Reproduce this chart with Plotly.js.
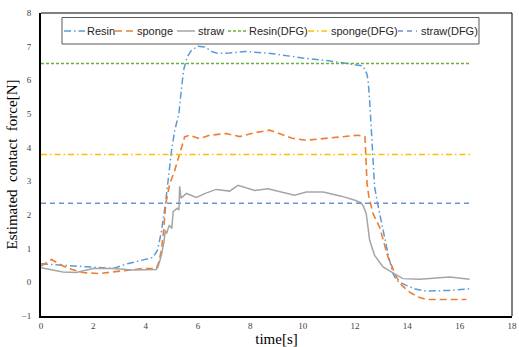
<!DOCTYPE html>
<html>
<head>
<meta charset="utf-8">
<script src="https://cdn.plot.ly/plotly-3.0.1.min.js"></script>
<style>html,body{margin:0;padding:0;background:#fff;}#chart{width:519px;height:347px;}</style>
</head>
<body>
<div id="chart"></div>
<script>
// ---- data ----
const resinT = [0,1.0,2.75,3.3,4.28,4.45,4.6,4.75,4.9,4.99,5.11,5.27,5.36,5.45,5.58,5.75,6.0,6.26,6.57,6.76,7.21,7.8,8.87,10.14,11.0,11.67,12.0,12.3,12.45,12.5,12.56,12.62,12.69,12.75,12.85,12.94,13.1,13.26,13.45,13.6,13.96,14.3,14.73,15.2,15.62,16.38];
const resinV = [0.55,0.50,0.41,0.55,0.74,0.95,1.5,2.3,3.3,3.92,4.51,5.01,5.7,6.3,6.69,6.89,7.01,6.99,6.84,6.80,6.81,6.86,6.79,6.65,6.58,6.50,6.48,6.43,6.2,6.0,5.4,4.6,3.9,2.83,2.4,2.04,1.4,0.85,0.26,0.05,-0.09,-0.2,-0.26,-0.25,-0.24,-0.19];

const spongeT = [0,0.4,0.8,1.16,1.6,2.24,2.75,3.26,3.9,4.41,4.5,4.6,4.68,4.77,4.92,5.1,5.3,5.36,5.49,5.68,6.06,6.45,7.08,7.59,8.2,8.74,9.2,9.6,10.14,11.0,12.11,12.38,12.42,12.46,12.53,12.69,12.94,13.1,13.26,13.58,13.8,14.09,14.4,14.73,16.26];
const spongeV = [0.48,0.68,0.5,0.39,0.29,0.26,0.31,0.36,0.41,0.41,0.6,0.95,1.5,2.34,2.93,3.3,3.82,3.97,4.32,4.37,4.27,4.37,4.42,4.33,4.45,4.52,4.4,4.28,4.22,4.28,4.37,4.33,3.6,2.93,2.54,2.04,1.64,1.2,0.75,0.16,-0.1,-0.29,-0.43,-0.51,-0.51];

const strawT = [0,0.84,1.35,1.99,2.75,3.5,4.4,4.47,4.6,4.66,4.7,4.75,4.8,4.9,5.0,5.05,5.2,5.27,5.3,5.35,5.56,5.94,6.3,6.7,7.21,7.53,7.97,8.17,8.67,9.2,9.69,10.14,10.78,11.48,12.0,12.24,12.33,12.43,12.56,12.75,13.07,13.45,13.83,14.47,15.62,16.38];
const strawV = [0.43,0.31,0.29,0.41,0.41,0.37,0.38,0.46,0.8,1.05,1.2,1.55,1.45,1.7,1.6,2.1,2.2,2.15,2.85,2.5,2.64,2.52,2.65,2.76,2.71,2.88,2.78,2.73,2.78,2.68,2.59,2.68,2.68,2.56,2.44,2.36,2.24,2.04,1.25,0.8,0.46,0.28,0.11,0.09,0.16,0.09];

const dfgT = [0, 16.4];
const resinDFG = 6.5;
const spongeDFG = 3.8;
const strawDFG = 2.35;

const legendNames = ["Resin","sponge","straw","Resin(DFG)","sponge(DFG)","straw(DFG)"];

// ---- styles ----
const styles = [
  {color:'#5B9BD5', width:1.5, dash:'7px,3px,1.5px,3px'},
  {color:'#ED7D31', width:1.6, dash:'7px,4px'},
  {color:'#A5A5A5', width:1.5, dash:'solid'},
  {color:'#66B53A', width:1.4, dash:'3px,2px'},
  {color:'#FFC000', width:1.5, dash:'6px,3px,1.5px,3px'},
  {color:'#6F8FD6', width:1.5, dash:'5px,4px'}
];

const series = [
  {x: resinT, y: resinV},
  {x: spongeT, y: spongeV},
  {x: strawT, y: strawV},
  {x: dfgT, y: dfgT.map(() => resinDFG)},
  {x: dfgT, y: dfgT.map(() => spongeDFG)},
  {x: dfgT, y: dfgT.map(() => strawDFG)}
];

const traces = series.map((s, i) => ({
  x: s.x, y: s.y, name: legendNames[i], type: 'scatter', mode: 'lines',
  line: {color: styles[i].color, width: styles[i].width, dash: styles[i].dash},
  showlegend: false
}));

// ---- manual legend (layout positions in pixels of the 519x347 canvas) ----
const W = 519, H = 347, mL = 41, mR = 7, mT = 13, mB = 31;
const pw = W - mL - mR, ph = H - mT - mB;
const px = v => (v - mL) / pw;
const py = v => (H - mB - v) / ph;
const sampleX = [[64,85],[115,134],[177,195],[228,246],[308,327],[398,417]];
const textX = [86,136,197,248,330,420];
const legY = 31;

const shapes = [
  {type:'rect', xref:'paper', yref:'paper', x0:px(62), x1:px(479), y0:py(44), y1:py(17.5),
   line:{color:'#595959', width:1}, fillcolor:'#ffffff', layer:'above'},
  {type:'line', xref:'paper', yref:'paper', x0:0, x1:1, y0:1, y1:1, line:{color:'#000', width:1}},
  {type:'line', xref:'paper', yref:'paper', x0:1, x1:1, y0:0, y1:1, line:{color:'#000', width:1}}
];
const annotations = [];
legendNames.forEach((n, i) => {
  shapes.push({type:'line', xref:'paper', yref:'paper', x0:px(sampleX[i][0]), x1:px(sampleX[i][1]),
    y0:py(legY), y1:py(legY), layer:'above',
    line:{color: styles[i].color, width: Math.max(styles[i].width,1.5), dash: styles[i].dash}});
  annotations.push({xref:'paper', yref:'paper', x:px(textX[i]), y:py(legY), xanchor:'left', yanchor:'middle',
    text:n, showarrow:false, borderpad:0, font:{family:'Liberation Sans, Arial, sans-serif', size:11, color:'#262626'}});
});

const layout = {
  width: W, height: H,
  margin: {l: mL, r: mR, t: mT, b: mB, pad: 0},
  paper_bgcolor: '#fff', plot_bgcolor: '#fff',
  showlegend: false,
  xaxis: {
    range: [0, 18], dtick: 2, tick0: 0, showgrid: false, zeroline: false,
    showline: true, linecolor: '#000', linewidth: 2, ticks: '',
    tickfont: {family: 'Liberation Serif, Times New Roman, serif', size: 9, color: '#404040'},
    title: {text: 'time[s]', standoff: 4, font: {family: 'Liberation Serif, Times New Roman, serif', size: 15, color: '#000'}}
  },
  yaxis: {
    range: [-1, 8], dtick: 1, tick0: 0, showgrid: false, zeroline: false,
    showline: true, linecolor: '#000', linewidth: 2, ticks: '',
    ticklabelstandoff: 6,
    tickfont: {family: 'Liberation Serif, Times New Roman, serif', size: 9, color: '#404040'},
    title: {text: 'Estimated\u00a0\u00a0contact\u00a0\u00a0force[N]', standoff: 0, font: {family: 'Liberation Serif, Times New Roman, serif', size: 15, color: '#000'}}
  },
  shapes: shapes,
  annotations: annotations
};

Plotly.newPlot('chart', traces, layout, {displayModeBar: false, staticPlot: true});
</script>
</body>
</html>
